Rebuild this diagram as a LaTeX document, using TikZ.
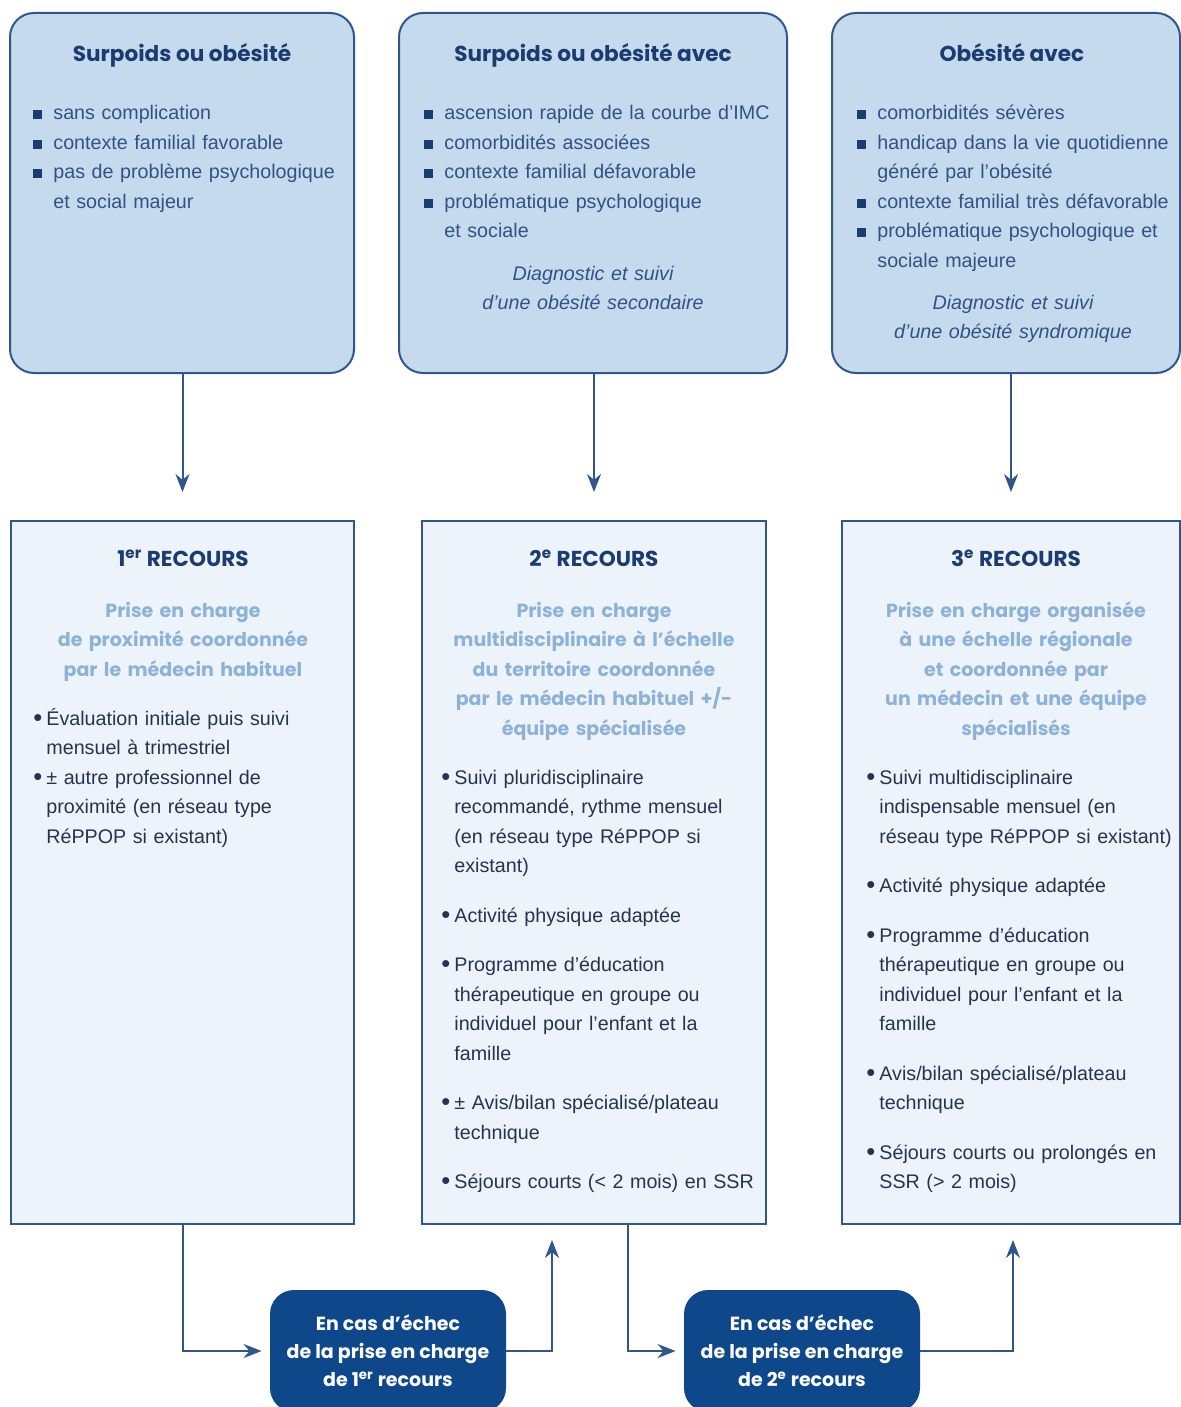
\documentclass[tikz,border=0pt]{standalone}
\usepackage{fontspec}
\setmainfont{Liberation Sans}
\newfontfamily\gothic{Poppins}
\usetikzlibrary{arrows.meta,positioning}
\definecolor{navy}{RGB}{26,60,112}
\definecolor{edge}{RGB}{48,86,140}
\definecolor{pale}{RGB}{198,218,238}
\definecolor{paler}{RGB}{237,243,250}
\definecolor{deep}{RGB}{14,72,138}
\definecolor{soft}{RGB}{140,178,216}
\definecolor{ink}{RGB}{40,50,80}
\definecolor{bluink}{RGB}{50,82,132}
\newcommand\sq{\textcolor{navy}{\rule[0.3pt]{4.5pt}{4.5pt}}}
\newcommand\sqi{\noindent\hangindent=10pt\hangafter=1\makebox[10pt][l]{\sq}}
\newcommand\dti{\noindent\hangindent=6.5pt\hangafter=1\makebox[6.5pt][l]{\raisebox{-0.6pt}{\scalebox{1.3}{\textbullet}}}}
\begin{document}
\begin{tikzpicture}[x=0.5pt,y=-0.5pt,
  topbox/.style={draw=edge,line width=1pt,fill=pale,rounded corners=12pt,minimum height=180pt},
  recbox/.style={draw=edge,line width=1pt,fill=paler,minimum height=351.5pt},
  failbox/.style={fill=deep,rounded corners=12pt,minimum width=118pt,minimum height=61pt,text=white,align=center,font=\gothic\bfseries\fontsize{9.5}{14}\selectfont},
  head/.style={anchor=base,text=navy,font=\gothic\bfseries\fontsize{10.8}{13}\selectfont},
  sub/.style={anchor=base,text width=170pt,align=center,text=soft,font=\gothic\bfseries\fontsize{9.5}{14.75}\selectfont},
  body/.style={anchor=base west,inner sep=0pt,text width=190pt,text=ink,font=\fontsize{9.85}{14.75}\selectfont},
  note/.style={anchor=base,text width=170pt,align=center,text=bluink,font=\itshape\fontsize{9.85}{14.75}\selectfont},
  arr/.style={draw=edge,line width=1pt,-{Stealth[length=9pt,width=7pt]}}]
\useasboundingbox (0,0) rectangle (1181,1407);
\clip (0,0) rectangle (1181,1407);
\node[topbox,minimum width=172pt] (obA) at (182,193) {};
\node[topbox,minimum width=194pt] (obB) at (593,193) {};
\node[topbox,minimum width=174pt] (obC) at (1006,193) {};
\node[recbox,minimum width=171.5pt] (rec1) at (182.5,872.5) {};
\node[recbox,minimum width=172pt] (rec2) at (594,872.5) {};
\node[recbox,minimum width=169pt] (rec3) at (1011,872.5) {};
\node[failbox] (fail1) at (388,1351) {En cas d’échec\\de la prise en charge\\de 1\textsuperscript{er} recours};
\node[failbox] (fail2) at (802,1351) {En cas d’échec\\de la prise en charge\\de 2\textsuperscript{e} recours};

\node[head] (hA) at (182,62) {Surpoids ou obésité};
\node[head] (hB) at (593,62) {Surpoids ou obésité avec};
\node[head] (hC) at (1012,62) {Obésité avec};
\node[body,text=bluink] (lA) at (33,120) {\sqi sans complication\par
  \sqi contexte familial favorable\par
  \sqi pas de problème psychologique\newline et social majeur\par};
\node[body,text=bluink] (lB) at (424,120) {\sqi ascension rapide de la courbe d’IMC\par
  \sqi comorbidités associées\par
  \sqi contexte familial défavorable\par
  \sqi problématique psychologique\newline et sociale\par};
\node[body,text=bluink] (lC) at (857,120) {\sqi comorbidités sévères\par
  \sqi handicap dans la vie quotidienne\newline généré par l’obésité\par
  \sqi contexte familial très défavorable\par
  \sqi problématique psychologique et\newline sociale majeure\par};
\node[note] (nB) at (593,280) {Diagnostic et suivi\\ d’une obésité secondaire};
\node[note] (nC) at (1013,309) {Diagnostic et suivi\\ d’une obésité syndromique};

\node[head] (h1) at (183,566) {1\textsuperscript{er} RECOURS};
\node[head] (h2) at (594,566) {2\textsuperscript{e} RECOURS};
\node[head] (h3) at (1016,566) {3\textsuperscript{e} RECOURS};
\node[sub] (s1) at (183,617) {Prise en charge\\ de proximité coordonnée\\ par le médecin habituel};
\node[sub] (s2) at (594,617) {Prise en charge\\ multidisciplinaire à l’échelle\\ du territoire coordonnée\\ par le médecin habituel +/-\\ équipe spécialisée};
\node[sub] (s3) at (1016,617) {Prise en charge organisée\\ à une échelle régionale\\ et coordonnée par\\ un médecin et une équipe\\ spécialisés};
\node[body] (l1) at (33,725) {\dti Évaluation initiale puis suivi\newline mensuel à trimestriel\par
  \dti ± autre professionnel de\newline proximité (en réseau type\newline RéPPOP si existant)\par};
\node[body] (l2) at (441,784) {\setlength\parskip{10pt}\dti Suivi pluridisciplinaire\newline recommandé, rythme mensuel\newline (en réseau type RéPPOP si\newline existant)\par
  \dti Activité physique adaptée\par
  \dti Programme d’éducation\newline thérapeutique en groupe ou\newline individuel pour l’enfant et la\newline famille\par
  \dti ± Avis/bilan spécialisé/plateau\newline technique\par
  \dti Séjours courts (< 2 mois) en SSR\par};
\node[body] (l3) at (866,784) {\setlength\parskip{10pt}\dti Suivi multidisciplinaire\newline indispensable mensuel (en\newline réseau type RéPPOP si existant)\par
  \dti Activité physique adaptée\par
  \dti Programme d’éducation\newline thérapeutique en groupe ou\newline individuel pour l’enfant et la\newline famille\par
  \dti Avis/bilan spécialisé/plateau\newline technique\par
  \dti Séjours courts ou prolongés en\newline SSR (> 2 mois)\par};

\foreach \a/\b in {obA/rec1,obB/rec2,obC/rec3}
  \draw[arr,shorten >=14pt] (\b.north |- \a.south) -- (\b.north);
\coordinate (out2) at (628,1224);
\coordinate (in2) at (552,1224);
\coordinate (in3) at (1013,1224);
\draw[arr,shorten >=4pt] (rec1.south) |- (fail1.west);
\draw[arr,shorten >=8pt] (fail1.east) -| (in2);
\draw[arr,shorten >=4pt] (out2) |- (fail2.west);
\draw[arr,shorten >=8pt] (fail2.east) -| (in3);
\end{tikzpicture}
\end{document}
